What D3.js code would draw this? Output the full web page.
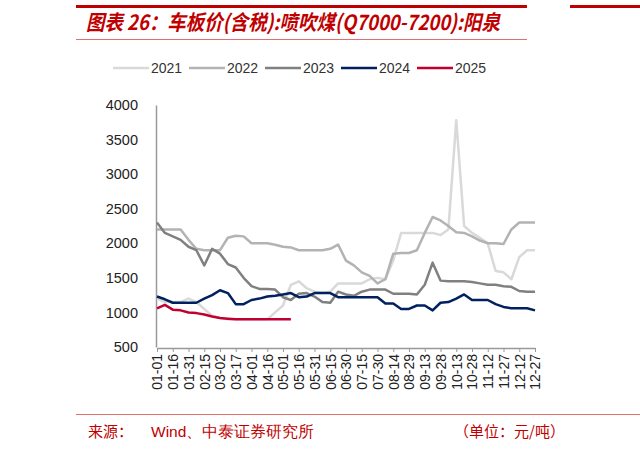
<!DOCTYPE html>
<html><head><meta charset="utf-8">
<script src="https://cdn.jsdelivr.net/npm/d3@7.9.0/dist/d3.min.js"></script>
<style>body{margin:0;background:#fff}svg{display:block}</style>
</head><body><svg id="chart" width="640" height="453"></svg>
<script>
const tickLabels = ["01-01","01-16","01-31","02-15","03-02","03-17","04-01","04-16","05-01","05-16","05-31","06-15","06-30","07-15","07-30","08-14","08-29","09-13","09-28","10-13","10-28","11-12","11-27","12-12","12-27"];
const years = ["2021","2022","2023","2024","2025"];
const colors = ["#d9d9d9","#b3b3b3","#808080","#002060","#c00030"];
const v2021 = [1200,1150,1150,1150,1200,1150,1050,950,920,900,900,900,900,900,900,1000,1100,1400,1450,1350,1300,1280,1300,1420,1420,1420,1420,1480,1500,1480,1750,2150,2150,2150,2150,2150,2120,2200,3780,2250,2150,2080,2000,1600,1580,1480,1800,1900,1900];
const v2022 = [2200,2200,2200,2200,2050,1920,1900,1900,1900,2080,2110,2100,2000,2000,2000,1980,1950,1940,1900,1900,1900,1900,1920,1980,1750,1680,1580,1530,1420,1480,1850,1860,1860,1900,2150,2380,2330,2250,2160,2150,2100,2040,2000,2000,1990,2200,2300,2300,2300];
const v2023 = [2300,2150,2100,2050,1950,1900,1680,1920,1850,1700,1650,1500,1380,1340,1340,1330,1220,1180,1270,1280,1230,1150,1140,1300,1260,1240,1300,1330,1330,1330,1270,1270,1270,1260,1400,1720,1460,1450,1450,1450,1440,1420,1400,1400,1380,1370,1310,1300,1300];
const v2024 = [1230,1190,1140,1140,1140,1140,1200,1250,1320,1280,1120,1120,1180,1200,1230,1240,1260,1280,1220,1230,1280,1280,1280,1220,1220,1220,1220,1220,1220,1130,1130,1050,1050,1100,1100,1030,1140,1150,1200,1260,1180,1180,1180,1120,1080,1060,1060,1060,1030];
const v2025 = [1060,1110,1040,1030,1000,990,970,940,920,910,900,900,900,900,900,900,900,900];
const series = [v2021, v2022, v2023, v2024, v2025];
const yTicks = [500,1000,1500,2000,2500,3000,3500,4000];

const svg = d3.select("#chart");
const red = "#c00000";
const font = "Arial, 'Liberation Sans', sans-serif";

// header
svg.append("rect").attr("x",76).attr("y",5).attr("width",451).attr("height",3).attr("fill",red);
svg.append("rect").attr("x",570).attr("y",5).attr("width",70).attr("height",3).attr("fill",red);
svg.append("rect").attr("x",76).attr("y",39).attr("width",451).attr("height",1).attr("fill","#e07070");
svg.append("text").attr("x",86).attr("y",30).attr("fill",red)
  .attr("font-family","'Noto Sans CJK SC', sans-serif").attr("font-size",21).attr("font-weight","bold")
  .attr("font-style","italic").attr("textLength",414).attr("lengthAdjust","spacingAndGlyphs")
  .text("图表 26：车板价(含税):喷吹煤(Q7000-7200):阳泉");

const x = d3.scaleLinear().domain([0,48]).range([157,535]);
const y = d3.scaleLinear().domain([500,4000]).range([347,105]);

// legend
const lg = svg.append("g").attr("font-family",font).attr("font-size",14).attr("fill","#333");
years.forEach((yr,i)=>{
  const lx = 113 + i*76;
  lg.append("line").attr("x1",lx).attr("x2",lx+36).attr("y1",68).attr("y2",68)
    .attr("stroke",colors[i]).attr("stroke-width",2.5);
  lg.append("text").attr("x",lx+38).attr("y",73).text(yr);
});

// axes
const yAxis = svg.append("g").attr("transform","translate(156,0)")
  .call(d3.axisLeft(y).tickValues(yTicks).tickFormat(d3.format("d")).tickSize(0).tickPadding(18));
yAxis.select(".domain").attr("stroke","#999").attr("stroke-width",1.5);
yAxis.selectAll("text").attr("font-family",font).attr("font-size",14.5).attr("fill","#222");

const xt = d3.scaleLinear().domain([0,24]).range([157,535]);
const xAxis = svg.append("g").attr("transform","translate(0,348)")
  .call(d3.axisBottom(xt).tickValues(d3.range(25)).tickFormat(i=>tickLabels[i]).tickSize(4).tickSizeOuter(0));
xAxis.select(".domain").attr("stroke","#999").attr("stroke-width",1.5);
xAxis.selectAll(".tick line").attr("stroke","#999");
xAxis.selectAll("text").attr("font-family",font).attr("font-size",14).attr("fill","#222")
  .attr("transform","rotate(-90)").attr("text-anchor","end").attr("y",0).attr("x",-6).attr("dy","0.35em");

// lines
const line = d3.line().x((d,i)=>x(i)).y(d=>y(d));
series.forEach((s,i)=>{
  svg.append("path").datum(s).attr("d",line).attr("fill","none")
    .attr("stroke",colors[i]).attr("stroke-width",2.5).attr("stroke-linejoin","round");
});

// footer
svg.append("rect").attr("x",76).attr("y",414).attr("width",564).attr("height",1).attr("fill","#e07070");
const ft = svg.append("g").attr("font-family","'Noto Sans CJK SC', sans-serif").attr("font-size",15).attr("fill",red);
ft.append("text").attr("x",88).attr("y",437).text("来源：");
ft.append("text").attr("x",151).attr("y",437).attr("font-family",font).attr("font-size",15.5).text("Wind、中泰证券研究所");
ft.append("text").attr("x",565).attr("y",437).attr("text-anchor","end").text("（单位：元/吨）");
</script></body></html>
